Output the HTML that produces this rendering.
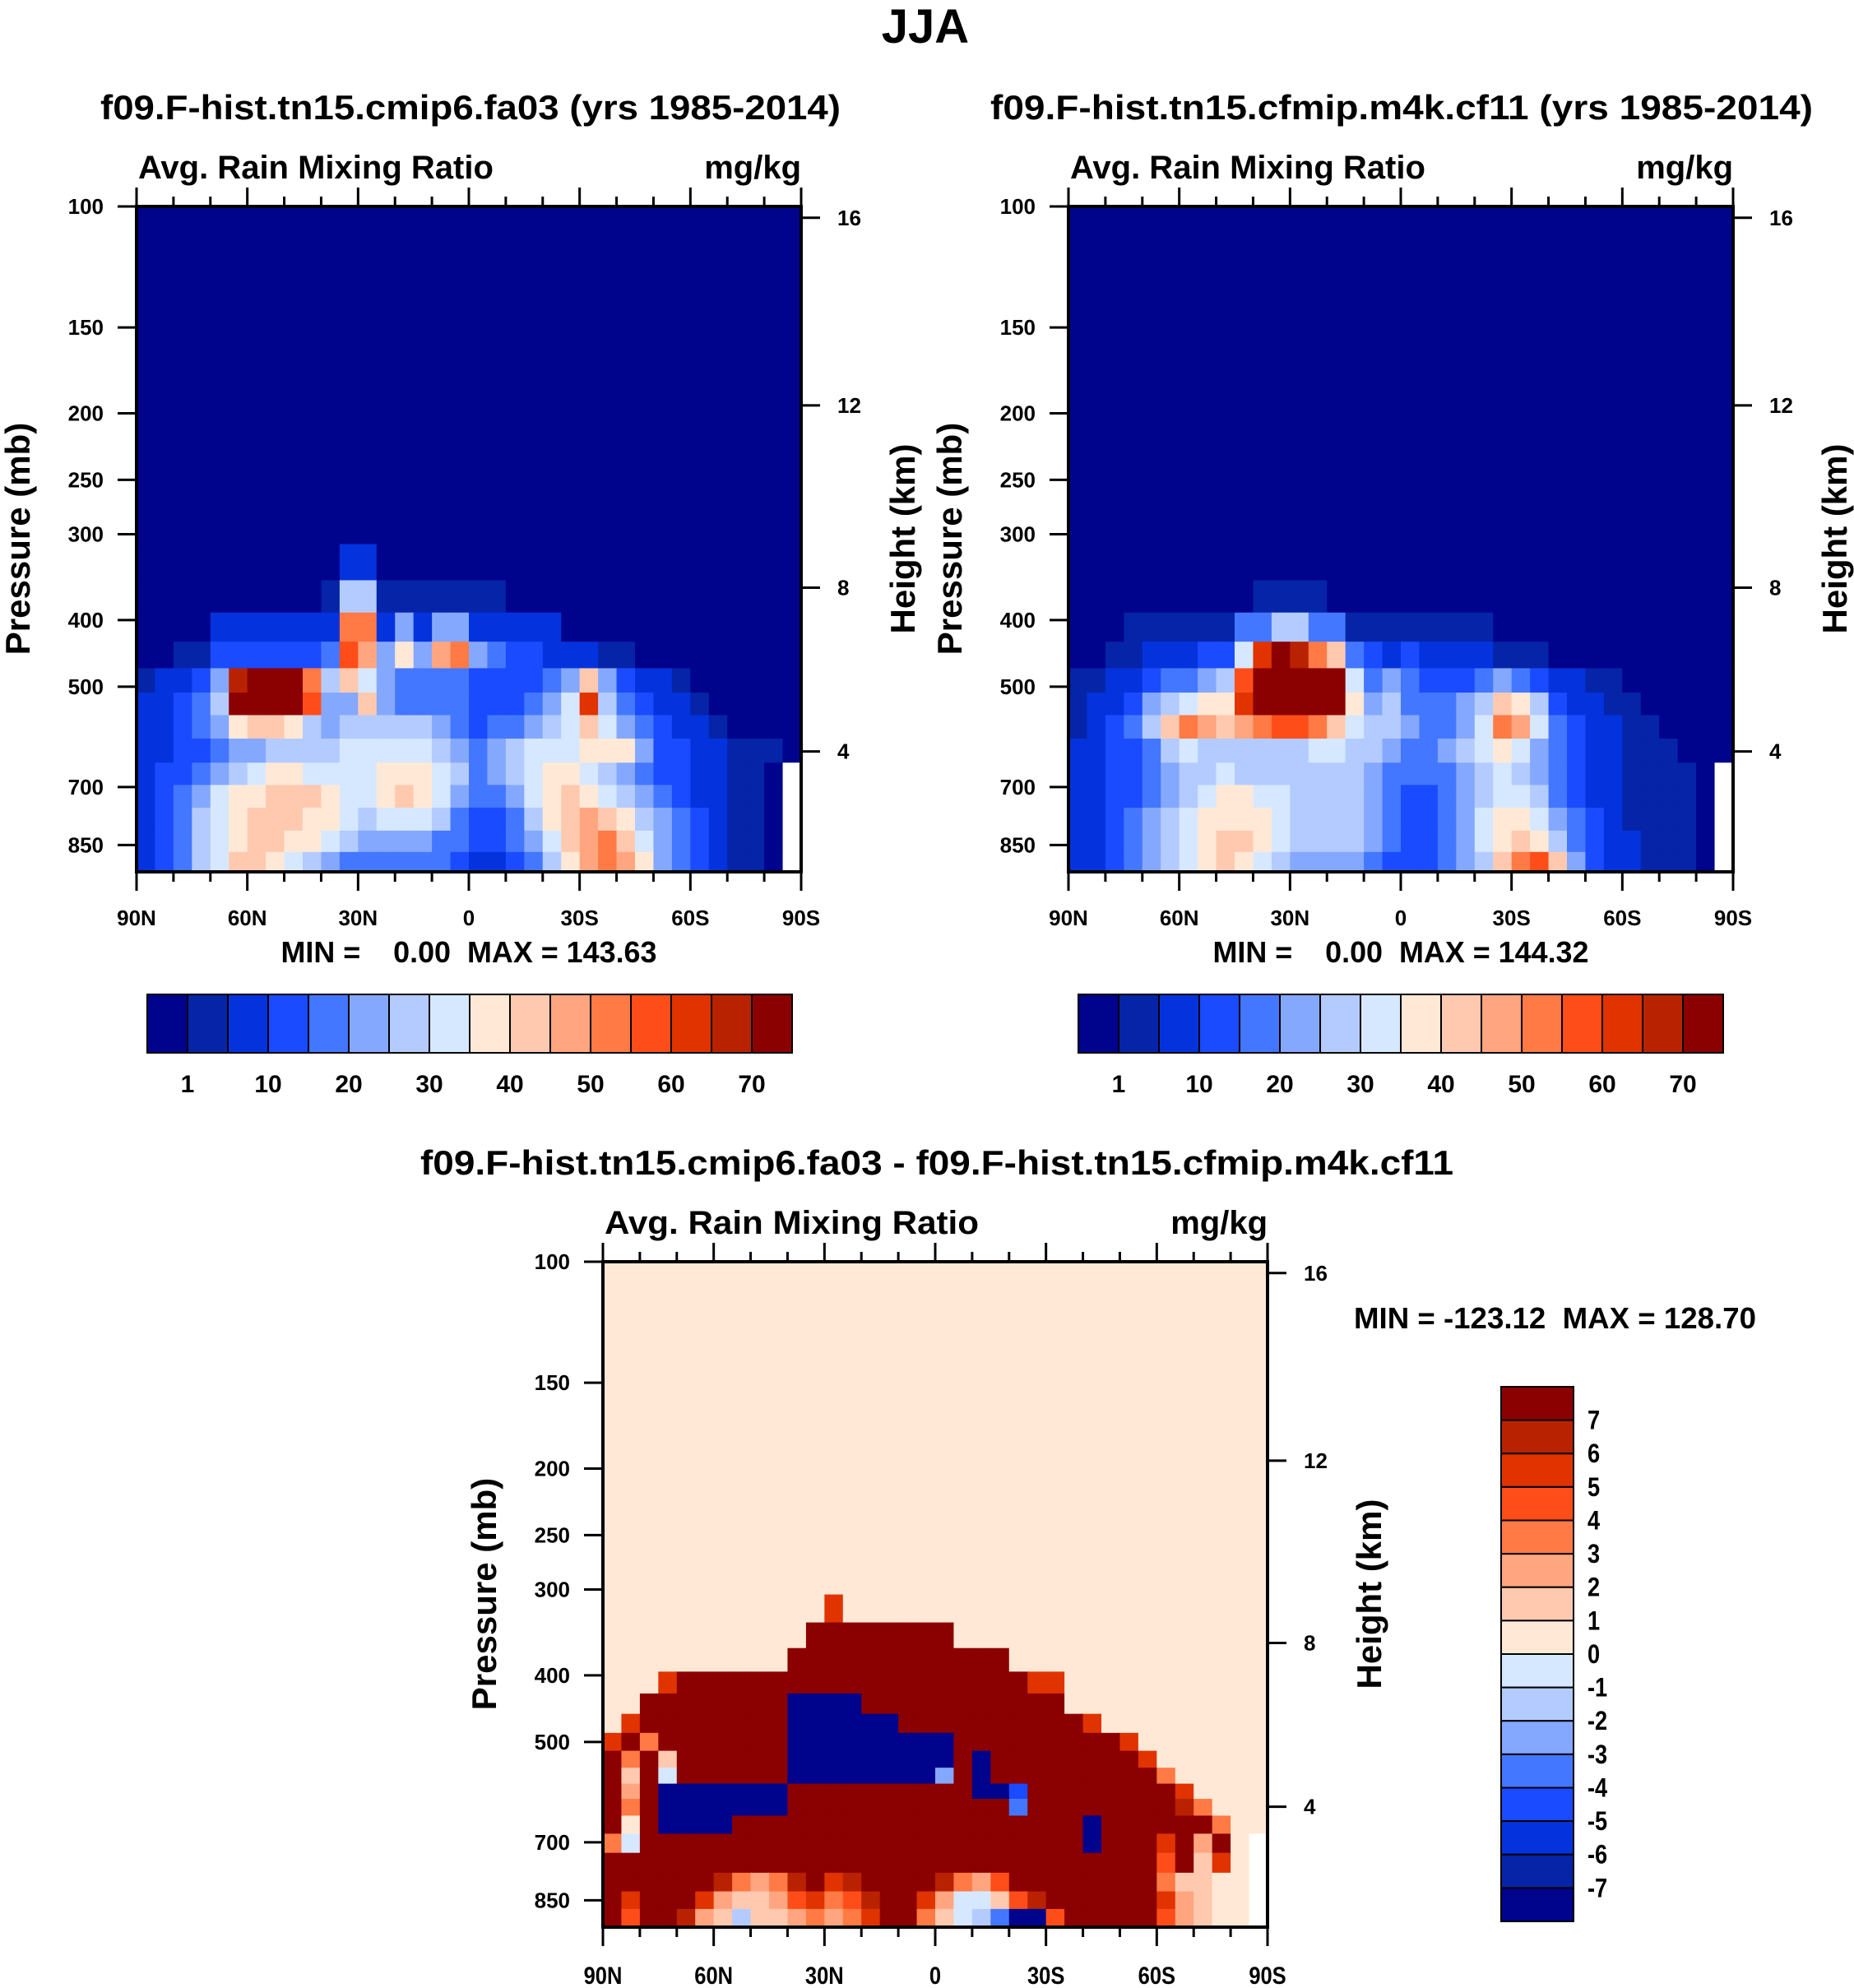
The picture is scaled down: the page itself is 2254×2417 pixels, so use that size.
<!DOCTYPE html>
<html><head><meta charset="utf-8"><style>
html,body{margin:0;padding:0;background:#fff;}
svg{display:block;font-family:"Liberation Sans",sans-serif;font-weight:bold;}
</style></head><body>
<svg id="fig" xmlns="http://www.w3.org/2000/svg" width="2254" height="2417" viewBox="0 0 2254 2417">
<rect x="0" y="0" width="2254" height="2417" fill="#fff"/>
<text x="1125" y="52" font-size="58" text-anchor="middle">JJA</text>
<text x="572" y="145" font-size="42" text-anchor="middle" textLength="900" lengthAdjust="spacingAndGlyphs">f09.F-hist.tn15.cmip6.fa03 (yrs 1985-2014)</text>
<text x="1704" y="145" font-size="42" text-anchor="middle" textLength="1000" lengthAdjust="spacingAndGlyphs">f09.F-hist.tn15.cfmip.m4k.cf11 (yrs 1985-2014)</text>
<text x="1139" y="1428" font-size="42" text-anchor="middle" textLength="1256" lengthAdjust="spacingAndGlyphs">f09.F-hist.tn15.cmip6.fa03 - f09.F-hist.tn15.cfmip.m4k.cf11</text>
<g id="p1"></g>
<g id="p2"></g>
<g id="p3"></g>
<g id="cb"></g>
</svg>
<script>
// ---------- data ----------
const colors = ["#00038B","#0524A8","#0433DD","#1A4BFF","#4477FF","#85A8FF","#B4CBFF","#D6E8FF","#FFE9D6","#FFC9B0","#FFA680","#FF7A45","#FF4D1A","#E03300","#B82200","#8B0000"];
const levelsAbs = [1,5,10,15,20,25,30,35,40,45,50,55,60,65,70];
const levelsDiff = [-7,-6,-5,-4,-3,-2,-1,0,1,2,3,4,5,6,7];
const absTickLabels = ["1","10","20","30","40","50","60","70"];
const diffTickLabels = ["-7","-6","-5","-4","-3","-2","-1","0","1","2","3","4","5","6","7"];
const pressureTicks = [100,150,200,250,300,400,500,700,850];
const heightTicks = ["16","12","8","4"];
const heightFrac = [0.017,0.299,0.573,0.819];
const latLabels = ["90N","60N","30N","0","30S","60S","90S"];
const pRows1 = [330,370,410,450,490,530,570,620,670,720,780,840,900];
const grid1 = [
[0,0,0,0,0,0,0,0,0,0,0,8,8,0,0,0,0,0,0,0,0,0,0,0,0,0,0,0,0,0,0,0,0,0,0,0],
[0,0,0,0,0,0,0,0,0,0,3,25,25,3,3,3,3,3,3,3,0,0,0,0,0,0,0,0,0,0,0,0,0,0,0,0],
[0,0,0,0,8,8,8,8,8,8,8,50,50,8,20,8,20,20,8,8,8,8,8,0,0,0,0,0,0,0,0,0,0,0,0,0],
[0,0,3,3,10,10,10,10,10,10,15,55,45,20,35,20,45,50,20,15,10,10,8,5,5,3,2,0,0,0,0,0,0,0,0,0],
[3,5,8,12,20,65,75,75,75,50,25,40,30,20,15,15,15,15,12,10,10,10,15,20,40,20,12,8,5,3,0,0,0,0,0,0],
[5,6,10,15,25,70,75,75,75,55,20,20,40,20,15,15,15,15,12,12,12,15,20,30,60,25,15,12,8,5,3,0,0,0,0,0],
[6,8,10,15,20,35,40,40,35,25,20,25,25,25,25,25,20,15,12,15,18,20,25,30,40,30,20,15,10,8,5,3,0,0,0,0],
[6,8,10,12,15,20,22,25,25,25,28,30,30,30,32,32,28,22,18,20,25,30,32,32,35,38,35,20,12,10,8,5,3,2,1,0],
[7,10,12,15,22,28,32,35,35,33,32,30,32,35,38,38,32,25,18,20,25,32,35,35,32,28,22,18,12,10,8,6,4,1,0,-99],
[8,12,15,20,30,35,38,40,42,40,35,32,30,35,40,38,30,22,15,15,20,30,38,40,38,32,25,20,15,12,8,6,3,1,0,-99],
[8,12,18,25,32,38,40,42,40,38,35,30,28,30,32,30,25,18,12,12,15,25,35,42,45,42,35,28,20,15,10,6,3,1,0,-99],
[8,12,18,25,32,38,42,40,38,35,30,25,22,22,22,22,18,15,10,10,15,22,30,42,48,50,42,32,22,15,10,6,3,1,0,-99],
[8,12,18,25,32,40,40,35,30,25,20,15,15,15,15,18,15,12,8,8,12,18,25,35,45,52,48,35,22,15,10,6,3,1,0,-99]
];
const pRows2 = [330,370,410,450,490,530,570,620,670,720,780,840,900];
const grid2 = [
[0,0,0,0,0,0,0,0,0,0,0,0,0,0,0,0,0,0,0,0,0,0,0,0,0,0,0,0,0,0,0,0,0,0,0,0],
[0,0,0,0,0,0,0,0,0,0,3,3,3,3,0,0,0,0,0,0,0,0,0,0,0,0,0,0,0,0,0,0,0,0,0,0],
[0,0,0,4,4,4,4,4,4,15,15,25,25,15,15,4,4,4,4,4,4,4,4,0,0,0,0,0,0,0,0,0,0,0,0,0],
[0,0,2,3,5,6,8,10,12,30,60,70,65,50,40,15,10,8,10,8,6,5,5,4,3,2,0,0,0,0,0,0,0,0,0,0],
[2,3,5,8,12,15,18,20,25,55,75,75,75,75,70,30,15,20,15,12,10,12,15,20,15,10,8,6,4,2,0,0,0,0,0,0],
[3,5,8,12,20,25,30,35,35,60,75,75,75,75,72,35,20,25,18,15,15,20,25,40,35,25,12,8,5,3,2,0,0,0,0,0],
[4,6,10,15,25,40,50,45,40,45,50,55,55,50,40,30,25,25,20,18,18,22,30,50,45,30,18,12,8,5,3,1,0,0,0,0],
[5,8,10,12,18,25,30,28,25,25,28,28,28,30,30,28,25,20,18,18,20,25,30,35,30,22,15,12,8,5,3,2,1,0,0,0],
[6,8,10,12,15,20,25,28,30,28,28,28,28,28,28,25,22,18,15,15,18,22,28,30,28,22,15,12,8,6,4,3,2,1,0,-99],
[6,8,10,14,18,22,28,32,35,35,32,30,28,28,28,25,20,15,12,12,15,20,28,32,30,25,18,12,8,6,4,3,2,1,0,-99],
[6,8,12,15,20,25,30,35,38,38,35,30,28,28,28,25,20,15,12,12,15,22,30,35,35,30,22,15,10,6,4,3,2,1,0,-99],
[6,8,12,16,20,25,30,38,40,40,36,30,28,28,28,25,20,15,12,12,15,22,30,38,42,38,28,18,12,8,5,3,2,1,0,-99],
[6,8,12,16,20,25,30,38,40,38,32,25,22,22,22,20,18,14,12,12,15,20,28,40,50,55,40,22,12,8,5,3,2,1,0,-99]
];
const pRows3 = [320,350,380,410,440,470,500,530,560,590,620,660,700,750,800,850,900];
const grid3 = [
[0,0,0,0,0,0,0,0,0,0,0,0,5,0,0,0,0,0,0,0,0,0,0,0,0,0,0,0,0,0,0,0,0,0,0,0],
[0,0,0,0,0,0,0,0,0,0,0,8,10,8,10,10,10,10,10,0,0,0,0,0,0,0,0,0,0,0,0,0,0,0,0,0],
[0,0,0,0,0,0,0,0,0,0,10,10,10,10,10,10,10,10,10,10,10,10,0,0,0,0,0,0,0,0,0,0,0,0,0,0],
[0,0,0,5,10,10,10,10,10,10,10,10,10,10,10,10,10,10,10,10,10,10,10,5,5,0,0,0,0,0,0,0,0,0,0,0],
[0,0,10,10,10,10,10,10,10,10,-10,-10,-10,-10,10,10,10,10,10,10,10,10,10,10,10,0,0,0,0,0,0,0,0,0,0,0],
[0,5,10,10,10,10,10,10,10,10,-10,-10,-10,-10,-10,-10,10,10,10,10,10,10,10,10,10,10,5,0,0,0,0,0,0,0,0,0],
[5,10,3,10,10,10,10,10,10,10,-10,-10,-10,-10,-10,-10,-10,-10,-10,10,10,10,10,10,10,10,10,10,5,0,0,0,0,0,0,0],
[10,3,10,1,10,10,10,10,10,10,-10,-10,-10,-10,-10,-10,-10,-10,-10,10,-10,10,10,10,10,10,10,10,10,5,0,0,0,0,0,0],
[10,1,10,-1,10,10,10,10,10,10,-10,-10,-10,-10,-10,-10,-10,-10,-3,10,-10,10,10,10,10,10,10,10,10,10,3,0,0,0,0,0],
[10,2,10,-10,-10,-10,-10,-10,-10,-10,10,10,10,10,10,10,10,10,10,10,-10,-10,-5,10,10,10,10,10,10,10,10,5,0,0,0,0],
[10,3,10,-10,-10,-10,-10,-10,-10,-10,10,10,10,10,10,10,10,10,10,10,10,10,-4,10,10,10,10,10,10,10,10,6,3,0,0,0],
[10,0,10,-10,-10,-10,-10,10,10,10,10,10,10,10,10,10,10,10,10,10,10,10,10,10,10,10,-10,10,10,10,10,10,10,3,0,0],
[3,-1,10,10,10,10,10,10,10,10,10,10,10,10,10,10,10,10,10,10,10,10,10,10,10,10,-10,10,10,10,5,10,2,10,0,-99],
[10,10,10,10,10,10,10,10,10,10,10,10,10,10,10,10,10,10,10,10,10,10,10,10,10,10,10,10,10,10,4,10,1,5,0,-99],
[10,10,10,10,10,10,6,3,2,3,6,10,5,6,10,10,10,10,6,3,2,4,10,10,10,10,10,10,10,10,3,1,1,0,0,-99],
[10,5,10,10,10,5,2,1,1,2,4,5,3,4,6,10,10,5,2,-1,-1,1,4,6,10,10,10,10,10,10,5,2,1,0,0,-99],
[10,4,10,10,6,2,1,-2,1,1,2,3,2,3,5,10,10,3,1,-1,-2,-4,-10,-10,4,10,10,10,10,10,4,2,1,0,0,-99]
];
// ---------- drawing ----------
const NS="http://www.w3.org/2000/svg";
function mk(parent,tag,attrs,txt){const e=document.createElementNS(NS,tag);for(const k in attrs)e.setAttribute(k,attrs[k]);if(txt!==undefined)e.textContent=txt;parent.appendChild(e);return e;}
const PW=808, PH=809, LNB=Math.log(9.3);
function colorFor(v,levels){if(v===-99)return "#ffffff";let i=0;while(i<levels.length&&v>=levels[i])i++;return colors[i];}
function drawPanel(g,ox,oy,pRows,grid,levels,condensed){
  const yOf=p=>oy+PH*Math.log(p/100)/LNB;
  const xOf=lat=>ox+PW*(90-lat)/180;
  const bg=mk(g,'rect',{x:ox,y:oy,width:PW,height:PH,fill:colorFor(0,levels)});
  
  
  const ncol=grid[0].length, cw=PW/ncol;
  for(let i=0;i<pRows.length;i++){
    const pt=i===0?pRows[0]-(pRows[1]-pRows[0])/2:(pRows[i-1]+pRows[i])/2;
    const pb=i===pRows.length-1?930:(pRows[i]+pRows[i+1])/2;
    const y1=yOf(pt), y2=Math.min(yOf(pb),oy+PH);
    for(let j=0;j<ncol;j++){
      const r=mk(g,'rect',{x:(ox+j*cw).toFixed(2),y:y1.toFixed(2),width:(cw+0.6).toFixed(2),height:(y2-y1+0.6).toFixed(2),fill:colorFor(grid[i][j],levels)});
      
      
    }
  }
  const fr=mk(g,'rect',{x:ox,y:oy,width:PW,height:PH,fill:'none',stroke:'#000','stroke-width':4});
  
  
  pressureTicks.forEach(p=>{const y=yOf(p);
    mk(g,'line',{x1:ox-23,y1:y,x2:ox,y2:y,stroke:'#000','stroke-width':3});
    const t=mk(g,'text',{x:ox-40,y:y+9,'font-size':26,'text-anchor':'end'},String(p));
    
    
  });
  heightTicks.forEach((h,k)=>{const y=oy+PH*heightFrac[k];
    mk(g,'line',{x1:ox+PW,y1:y,x2:ox+PW+23,y2:y,stroke:'#000','stroke-width':3});
    const t=mk(g,'text',{x:ox+PW+44,y:y+9,'font-size':26},h);
    
    
  });
  for(let lat=90;lat>=-90;lat-=10){const x=xOf(lat);const major=(lat%30===0);const L=major?23:12;
    mk(g,'line',{x1:x,y1:oy+PH,x2:x,y2:oy+PH+L,stroke:'#000','stroke-width':3});
    mk(g,'line',{x1:x,y1:oy,x2:x,y2:oy-L,stroke:'#000','stroke-width':3});
  }
  latLabels.forEach((lb,k)=>{const t=mk(g,'text',{x:ox+PW*k/6,y:oy+PH+(condensed?69:65),'font-size':condensed?30:26,'text-anchor':'middle'},lb);
    if(condensed){t.setAttribute('transform',`translate(${ox+PW*k/6} 0) scale(0.85 1) translate(${-(ox+PW*k/6)} 0)`);}
    
    
  });
  const a=mk(g,'text',{x:ox+2,y:oy-34,'font-size':40},"Avg. Rain Mixing Ratio");
  if(condensed){a.setAttribute('textLength','455');a.setAttribute('lengthAdjust','spacingAndGlyphs');}
  
  
  const u=mk(g,'text',{x:ox+PW,y:oy-34,'font-size':40,'text-anchor':'end'},"mg/kg");
  
  
  const cy=oy+404;
  const pl=mk(g,'text',{x:0,y:0,'font-size':42,'text-anchor':'middle',transform:`translate(${ox-130} ${cy}) rotate(-90)`},"Pressure (mb)");
  
  
  const hl=mk(g,'text',{x:0,y:0,'font-size':42,'text-anchor':'middle',transform:`translate(${ox+PW+138} ${cy}) rotate(-90)`},"Height (km)");
  
  
}
drawPanel(document.getElementById('p1'),166,251,pRows1,grid1,levelsAbs,false);
drawPanel(document.getElementById('p2'),1299,251,pRows2,grid2,levelsAbs,false);
drawPanel(document.getElementById('p3'),733,1534,pRows3,grid3,levelsDiff,true);
const cbg=document.getElementById('cb');
const NB="\u00A0";
function mm(x,y,s,anchor,len){const t=mk(cbg,'text',{x:x,y:y,'font-size':36,'text-anchor':anchor},s);if(len){t.setAttribute('textLength',len);t.setAttribute('lengthAdjust','spacingAndGlyphs');}
  
  }
mm(570,1170,"MIN ="+NB+NB+NB+NB+"0.00"+NB+NB+"MAX = 143.63",'middle',457);
mm(1703,1170,"MIN ="+NB+NB+NB+NB+"0.00"+NB+NB+"MAX = 144.32",'middle',457);
mm(1646,1615,"MIN = -123.12"+NB+NB+"MAX = 128.70",'start',489);
function hbar(x0,x1,y0,y1){const w=(x1-x0)/16;
  for(let i=0;i<16;i++){const r=mk(cbg,'rect',{x:x0+i*w,y:y0,width:w,height:y1-y0,fill:colors[i],stroke:'#000','stroke-width':2});
    
    }
  absTickLabels.forEach((lb,k)=>{const t=mk(cbg,'text',{x:x0+w*(1+2*k),y:1328,'font-size':30,'text-anchor':'middle'},lb);
    
    });
}
hbar(179,963,1209,1280);
hbar(1311,2095,1209,1280);
(function(){const x0=1825,x1=1913,y0=1686,y1=2336,h=(y1-y0)/16;
  for(let i=0;i<16;i++){const r=mk(cbg,'rect',{x:x0,y:y0+i*h,width:x1-x0,height:h,fill:colors[15-i],stroke:'#000','stroke-width':2});
    
    }
  for(let k=0;k<15;k++){const t=mk(cbg,'text',{x:1930,y:y0+h*(k+1)+11,'font-size':32},diffTickLabels[14-k]);
    t.setAttribute('transform',`translate(1930 0) scale(0.85 1) translate(-1930 0)`);
    
    }
})();
</script>
</body></html>
